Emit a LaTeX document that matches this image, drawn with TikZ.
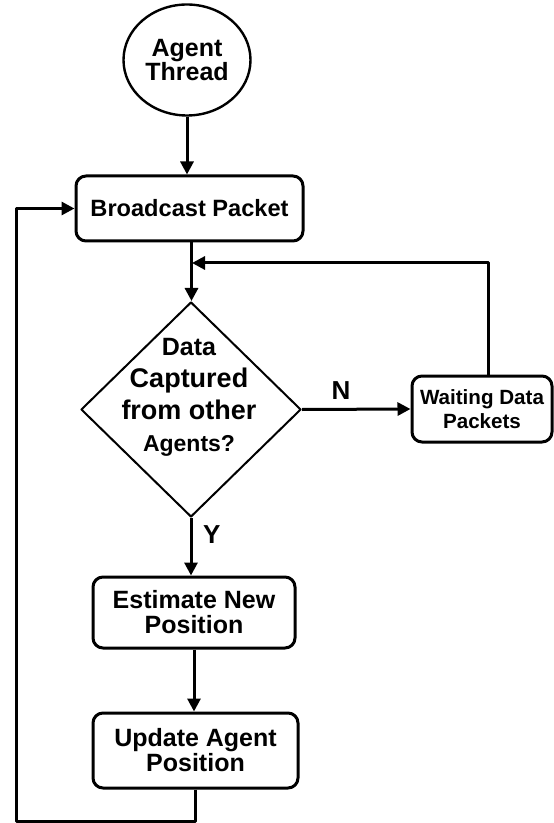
\documentclass[tikz,border=0pt]{standalone}
\usepackage{fontspec}
\setmainfont{Liberation Sans}
\usetikzlibrary{shapes.geometric,arrows.meta}

\begin{document}
\begin{tikzpicture}[x=0.5pt,y=-0.5pt,join=round,
    box/.style={draw,line width=1.5pt,rounded corners=5pt,align=center,inner sep=0pt,font=\bfseries\fontsize{12.5}{12.5}\selectfont},
    arr/.style={line width=1.5pt,-{Triangle[length=6.5pt,width=6.5pt]}},
    lbl/.style={font=\bfseries\fontsize{13}{13}\selectfont}]
    \useasboundingbox (0,0) rectangle (553,823);
    % nodes
    \node[draw,ellipse,line width=1.2pt,minimum width=63.5pt,minimum height=55.5pt,inner sep=0pt,align=center,font=\bfseries\fontsize{12.5}{12}\selectfont] (thread) at (187,60) {Agent\\Thread};
    \node[box,minimum width=113.5pt,minimum height=32.5pt,font=\bfseries\fontsize{11.8}{12}\selectfont] (broadcast) at (189.5,208.5) {Broadcast Packet};
    \node[draw,diamond,line width=1pt,minimum width=110pt,minimum height=107.5pt,inner sep=0pt] (check) at (191,409.5) {};
    \node[align=center,inner sep=0pt,font=\bfseries\fontsize{13.5}{16}\selectfont] (checktext) at (189,397) {{\fontsize{12.5}{16}\selectfont Data}\\Captured\\from other\\{\fontsize{11.5}{15}\selectfont Agents?}};
    \node[box,minimum width=70pt,minimum height=33pt,font=\bfseries\fontsize{10.3}{12}\selectfont] (waiting) at (482,409) {Waiting Data\\Packets};
    \node[box,minimum width=101pt,minimum height=35.5pt] (estimate) at (194,612.5) {Estimate New\\Position};
    \node[box,minimum width=102.5pt,minimum height=37.5pt] (update) at (195.5,750.5) {Update Agent\\Position};
    \coordinate (merge) at (192,263);
    \coordinate (loop) at (16,821);
    % connectors
    \draw[arr] (thread.south) -- (thread.south |- broadcast.north);
    \draw[arr] ([xshift=1pt]broadcast.south) -- ([xshift=1pt]broadcast.south |- check.north);
    \draw[arr] (check.east) -- (waiting.west) node[lbl,pos=0.36,above=1pt]{N};
    \draw[arr] ([xshift=3pt]waiting.north) |- (merge);
    \draw[arr] (check.south) -- (check.south |- estimate.north) node[lbl,pos=0.28,right=2pt]{Y};
    \draw[arr] (estimate.south) -- (estimate.south |- update.north);
    \draw[arr] (update.south) |- (loop) |- (broadcast.west);
\end{tikzpicture}
\end{document}
